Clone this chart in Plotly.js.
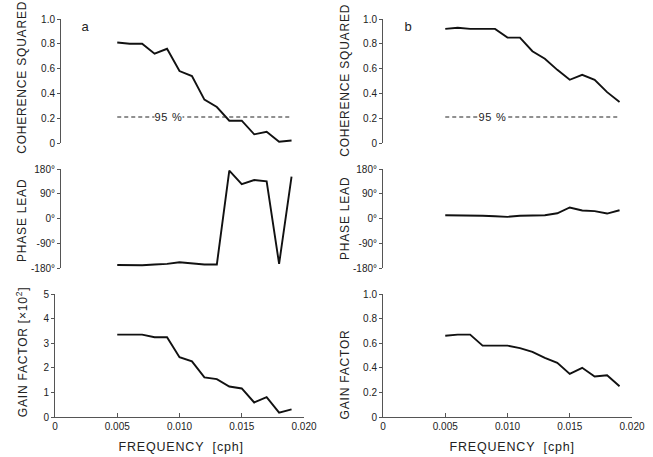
<!DOCTYPE html>
<html>
<head>
<meta charset="utf-8">
<script src="https://cdn.plot.ly/plotly-3.0.1.min.js"></script>
<style>
html,body{margin:0;padding:0;background:#fff;}
#chart{width:653px;height:457px;}
#chart .annotation-text{letter-spacing:0.8px;}
</style>
</head>
<body>
<div id="chart"></div>
<script>
// Frequencies (cph)
const freq = [0.005,0.006,0.007,0.008,0.009,0.010,0.011,0.012,0.013,0.014,0.015,0.016,0.017,0.018,0.019];
// Panel a
const cohA   = [0.81,0.80,0.80,0.72,0.76,0.58,0.54,0.35,0.29,0.18,0.18,0.07,0.09,0.01,0.02];
const phaseA = [-169,-170,-170,-167,-165,-159,-163,-167,-167,174,125,140,135,-165,152];
const gainA  = [3.35,3.35,3.35,3.24,3.24,2.43,2.26,1.61,1.54,1.24,1.16,0.59,0.81,0.18,0.31];
// Panel b
const cohB   = [0.92,0.93,0.92,0.92,0.92,0.85,0.85,0.74,0.68,0.59,0.51,0.55,0.51,0.41,0.33];
const phaseB = [12,12,12,10,8,6,10,11,12,19,40,29,27,18,30];
const gainB  = [0.66,0.67,0.67,0.58,0.58,0.58,0.56,0.53,0.48,0.44,0.35,0.40,0.33,0.34,0.25];
// 95% significance level for coherence squared
const sig95 = 0.21;
// Tick labels
const xTickVals = [0, 0.005, 0.010, 0.015, 0.020];
const xTickText = ['0','0.005','0.010','0.015','0.020'];
const cohTickVals = [0,0.2,0.4,0.6,0.8,1.0];
const cohTickText = ['0','0.2','0.4','0.6','0.8','1.0'];
const phaseTickVals = [-180,-90,0,90,180];
const phaseTickText = ['-180°','-90°','0°','90°','180°'];
const gainATickVals = [0,1,2,3,4,5];
const gainATickText = ['0','1','2','3','4','5'];
const gainBTickVals = [0,0.2,0.4,0.6,0.8,1.0];
const gainBTickText = ['0','0.2','0.4','0.6','0.8','1.0'];

const W = 653, H = 457;
const px = v => v / W;
const py = v => 1 - v / H;

const lineStyle = {color:'#111', width:1.9};
const dashStyle = {color:'#222', width:1.1, dash:'4px,3px'};
const sigX = [freq[0], freq[freq.length-1]];
const sigY = [sig95, sig95];

const traces = [
  {x:freq, y:cohA, xaxis:'x', yaxis:'y', mode:'lines', line:lineStyle},
  {x:sigX, y:sigY, xaxis:'x', yaxis:'y', mode:'lines', line:dashStyle},
  {x:freq, y:phaseA, xaxis:'x', yaxis:'y2', mode:'lines', line:lineStyle},
  {x:freq, y:gainA, xaxis:'x', yaxis:'y3', mode:'lines', line:lineStyle},
  {x:freq, y:cohB, xaxis:'x2', yaxis:'y4', mode:'lines', line:lineStyle},
  {x:sigX, y:sigY, xaxis:'x2', yaxis:'y4', mode:'lines', line:dashStyle},
  {x:freq, y:phaseB, xaxis:'x2', yaxis:'y5', mode:'lines', line:lineStyle},
  {x:freq, y:gainB, xaxis:'x2', yaxis:'y6', mode:'lines', line:lineStyle}
];

const fontFam = '"Liberation Sans", Arial, sans-serif';
const tickFont = {family: fontFam, size: 10, color:'#222'};

function yax(domain, range, vals, text, anchor, pos) {
  const a = {
    domain: domain, range: range, tickvals: vals, ticktext: text,
    showline: true, linecolor:'#555', linewidth:1,
    ticks:'outside', ticklen:3, tickcolor:'#555', tickwidth:1,
    showgrid:false, zeroline:false, tickfont:tickFont, fixedrange:true
  };
  if (anchor === 'free') { a.anchor = 'free'; a.position = pos; }
  else a.anchor = anchor;
  return a;
}
function xax(domain, anchor) {
  return {
    domain: domain, range:[0, 0.020], anchor: anchor,
    tickvals: xTickVals, ticktext: xTickText,
    showline:true, linecolor:'#555', linewidth:1,
    ticks:'inside', ticklen:4, tickcolor:'#555', tickwidth:1,
    showgrid:false, zeroline:false, tickfont:tickFont, fixedrange:true
  };
}

const domTop = [py(143), py(19)];
const domMid = [py(268), py(169)];
const domBot = [py(417), py(294)];

const titleFont = {family: fontFam, size: 12, color:'#222'};
function vtitle(text, x, y) {
  return {text:text, x:px(x), y:py(y), xref:'paper', yref:'paper', textangle:-90,
          showarrow:false, font:titleFont, xanchor:'center', yanchor:'middle'};
}

const layout = {
  width: W, height: H,
  margin:{l:0,r:0,t:0,b:0},
  paper_bgcolor:'#fff', plot_bgcolor:'rgba(0,0,0,0)',
  showlegend:false,
  xaxis: xax([px(55), px(304)], 'y3'),
  xaxis2: xax([px(383), px(632)], 'y6'),
  yaxis: yax(domTop, [0,1], cohTickVals, cohTickText, 'free', px(60)),
  yaxis2: yax(domMid, [-180,180], phaseTickVals, phaseTickText, 'free', px(60)),
  yaxis3: yax(domBot, [0,5], gainATickVals, gainATickText, 'x'),
  yaxis4: yax(domTop, [0,1], cohTickVals, cohTickText, 'x2'),
  yaxis5: yax(domMid, [-180,180], phaseTickVals, phaseTickText, 'x2'),
  yaxis6: yax(domBot, [0,1], gainBTickVals, gainBTickText, 'x2'),
  annotations: [
    vtitle('COHERENCE SQUARED', 22, 77),
    vtitle('PHASE LEAD', 22, 220),
    vtitle('GAIN FACTOR [×10<sup>2</sup>]', 22, 352),
    vtitle('COHERENCE SQUARED', 345, 80),
    vtitle('PHASE LEAD', 345, 218),
    vtitle('GAIN FACTOR', 345, 375),
    {text:'a', x:px(80), y:py(17), xref:'paper', yref:'paper', showarrow:false,
     font:{family:fontFam, size:13, color:'#222'}},
    {text:'b', x:px(408), y:py(17), xref:'paper', yref:'paper', showarrow:false,
     font:{family:fontFam, size:13, color:'#222'}},
    {text:'95 %', x:0.0091, y:sig95, xref:'x', yref:'y', showarrow:false,
     bgcolor:'#fff', borderpad:1, font:{family:fontFam, size:11, color:'#222'}},
    {text:'95 %', x:0.0088, y:sig95, xref:'x2', yref:'y4', showarrow:false,
     bgcolor:'#fff', borderpad:1, font:{family:fontFam, size:11, color:'#222'}},
    {text:'FREQUENCY  [cph]', x:px(181), y:py(447), xref:'paper', yref:'paper', showarrow:false,
     font:{family:fontFam, size:12.5, color:'#222'}, xanchor:'center', yanchor:'middle'},
    {text:'FREQUENCY  [cph]', x:px(512), y:py(447), xref:'paper', yref:'paper', showarrow:false,
     font:{family:fontFam, size:12.5, color:'#222'}, xanchor:'center', yanchor:'middle'}
  ]
};

Plotly.newPlot('chart', traces, layout, {displayModeBar:false, staticPlot:true});
</script>
</body>
</html>
